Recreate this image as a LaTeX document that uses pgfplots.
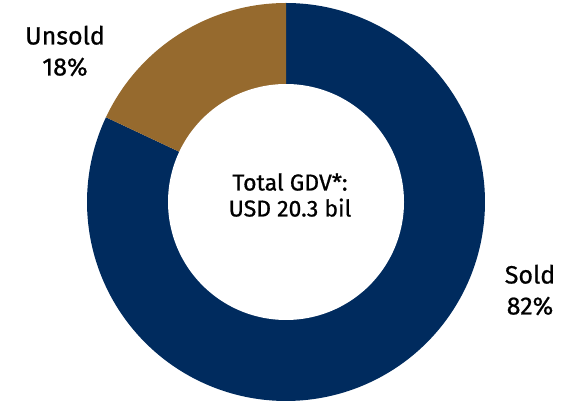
\documentclass[border=0pt]{standalone}
\usepackage{pgfplots}
\pgfplotsset{compat=1.18}
\usepackage{pgfplotstable}
\usepackage{fontspec}
\setmainfont{Fira Sans}
\newfontfamily\medfont{Fira Sans}[FakeBold=0.8]
\definecolor{navy}{HTML}{002B5E}
\definecolor{gold}{HTML}{966A2E}
\pgfplotstableread{
label value
Sold 82
Unsold 18
}\piedata
\pgfplotstablegetelem{0}{value}\of\piedata \let\soldval\pgfplotsretval
\pgfplotstablegetelem{1}{value}\of\piedata \let\unsoldval\pgfplotsretval
\pgfmathsetmacro{\soldend}{90-3.6*\soldval}
\pgfmathsetmacro{\unsoldend}{90+3.6*\unsoldval}
\begin{document}%
\begin{tikzpicture}
\begin{axis}[
  x=1pt, y=1pt,
  xmin=-286, xmax=281, ymin=-199, ymax=202,
  hide axis, clip=false, scale only axis,
]
\addplot[fill=navy, draw=none, domain=90:\soldend, samples=200] ({199*cos(x)},{199*sin(x)}) -- (axis cs:0,0) -- cycle;
\addplot[fill=gold, draw=none, domain=90:\unsoldend, samples=80] ({199*cos(x)},{199*sin(x)}) -- (axis cs:0,0) -- cycle;
\addplot[fill=white, draw=none, domain=0:360, samples=200] ({118*cos(x)},{118*sin(x)}) -- cycle;
\node[align=center, font=\medfont\fontsize{25}{31}\selectfont] at (axis cs:-221,151) {Unsold\\18\%};
\node[align=center, font=\medfont\fontsize{25}{31}\selectfont] at (axis cs:244,-88) {Sold\\82\%};
\node[align=center, font=\medfont\fontsize{23}{26}\selectfont] at (axis cs:4,7) {Total GDV*:\\USD 20.3 bil};
\path (rel axis cs:0,0) rectangle (rel axis cs:1,1);
\end{axis}
\end{tikzpicture}%
\end{document}
